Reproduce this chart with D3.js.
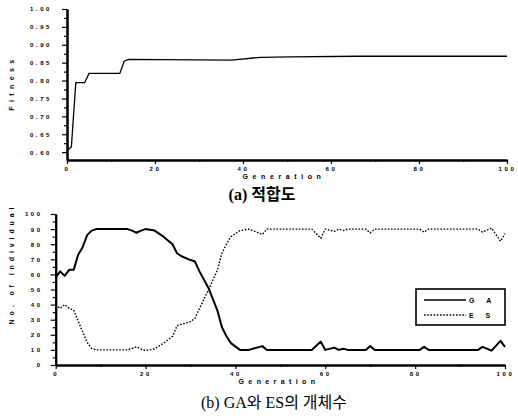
<!DOCTYPE html>
<html>
<head>
<meta charset="utf-8">
<script src="https://cdn.jsdelivr.net/npm/d3@7"></script>
<style>
body { margin: 0; background: #fff; }
svg { display: block; }
.tk text { font-family: "Liberation Sans", Arial, sans-serif; font-size: 6px; font-weight: bold; letter-spacing: 2.6px; fill: #000; }
.ttl { font-family: "Liberation Sans", Arial, sans-serif; font-size: 7px; font-weight: bold; fill: #000; }
.cap { font-family: "Liberation Serif", "Noto Sans CJK KR", serif; font-size: 16px; fill: #000; }
</style>
</head>
<body>
<svg id="chart" width="518" height="418"></svg>
<script>
// (a) fitness curve
var fitGen = [0, 1, 2, 4, 5, 12, 13, 14, 37, 38, 44, 51, 66, 100];
var fitVal = [0.603, 0.615, 0.794, 0.794, 0.820, 0.820, 0.854, 0.859, 0.857, 0.858, 0.865, 0.866, 0.868, 0.868];
var fitTicks = [0.60, 0.65, 0.70, 0.75, 0.80, 0.85, 0.90, 0.95, 1.00];

// (b) number of individuals
var popGen = [0, 1, 2, 3, 4, 5, 6, 7, 8, 9, 16, 17, 18, 19, 20, 22, 24, 26, 27, 28, 30, 31, 32, 34, 36, 37, 38, 39, 41, 43, 46, 47, 57, 59, 60, 62, 63, 64, 65, 69, 70, 71, 81, 82, 83, 94, 95, 97, 99, 100];
var gaVal = [58, 62, 59, 63, 63, 73, 78, 86, 89, 90, 90, 89, 87.6, 89, 90, 89, 85, 80, 74, 72, 69.5, 68.5, 62, 51, 36, 25, 19, 14.5, 10, 10, 12.5, 10, 10, 15.5, 10, 11.5, 10, 10.8, 10, 10, 12.5, 10, 10, 12, 10, 10, 12, 9.5, 16, 12];
var esVal = [40, 37.5, 40, 37.5, 36.5, 29, 22, 15, 11, 10, 10, 11, 12, 10.5, 9.5, 10.6, 14.4, 19, 26, 27, 28.7, 31, 37.5, 49.7, 63, 74, 80, 85, 89, 90, 86.5, 90, 90, 84, 90, 88.5, 90, 89, 90, 90, 87.5, 90, 90, 88, 90, 90, 88, 90.7, 82, 87];
var popTicks = [0, 10, 20, 30, 40, 50, 60, 70, 80, 90, 100];
var genTicks = [0, 20, 40, 60, 80, 100];
var series = ["G A", "E S"];

var svg = d3.select("#chart");

function styleAxis(g) {
    g.select(".domain").attr("stroke", "#000").attr("stroke-width", 2);
    g.selectAll(".tick line").attr("stroke", "#000").attr("stroke-width", 1.2);
    g.attr("class", "tk");
}

// ---------- top chart ----------
var x1 = d3.scaleLinear().domain([0, 100]).range([67, 507]);
var y1 = d3.scaleLinear().domain([0.578, 1.0]).range([160, 9]);

var gTop = svg.append("g");
gTop.append("g").attr("transform", "translate(0,160)")
    .call(d3.axisBottom(x1).tickValues(d3.range(10, 100, 20)).tickSize(2).tickFormat("").tickSizeOuter(0))
    .call(styleAxis);
gTop.append("g").attr("transform", "translate(0,160)")
    .call(d3.axisBottom(x1).tickValues(genTicks).tickSize(4).tickPadding(3).tickSizeOuter(0))
    .call(styleAxis);
gTop.append("g").attr("transform", "translate(67,0)")
    .call(d3.axisLeft(y1).tickValues(fitTicks.slice(0, -1).map(function(d) { return d + 0.025; })).tickSize(3).tickFormat("").tickSizeOuter(0))
    .call(styleAxis);
gTop.append("g").attr("transform", "translate(67,0)")
    .call(d3.axisLeft(y1).tickValues(fitTicks).tickSize(5).tickPadding(10).tickFormat(d3.format(".2f")).tickSizeOuter(0))
    .call(styleAxis);

var fitLine = d3.line().x(function(d, i) { return x1(fitGen[i]); }).y(function(d) { return y1(d); });
gTop.append("path").datum(fitVal).attr("d", fitLine)
    .attr("fill", "none").attr("stroke", "#000").attr("stroke-width", 1.3);

gTop.append("text").attr("class", "ttl").attr("x", 284).attr("y", 179)
    .attr("text-anchor", "middle").style("letter-spacing", "4.6px").text("Generation");
gTop.append("text").attr("class", "ttl").attr("transform", "translate(14,83) rotate(-90)")
    .attr("text-anchor", "middle").style("letter-spacing", "4.4px").text("Fitness");

svg.append("text").attr("class", "cap").attr("x", 262).attr("y", 200)
    .attr("text-anchor", "middle").attr("font-weight", "bold").text("(a) 적합도");

// ---------- bottom chart ----------
var x2 = d3.scaleLinear().domain([0, 100]).range([55.7, 505]);
var y2 = d3.scaleLinear().domain([0, 100]).range([365, 214]);

var gBot = svg.append("g");
gBot.append("g").attr("transform", "translate(0,365)")
    .call(d3.axisBottom(x2).tickValues(d3.range(10, 100, 20)).tickSize(2).tickFormat("").tickSizeOuter(0))
    .call(styleAxis);
gBot.append("g").attr("transform", "translate(0,365)")
    .call(d3.axisBottom(x2).tickValues(genTicks).tickSize(4).tickPadding(3).tickSizeOuter(0))
    .call(styleAxis);
gBot.append("g").attr("transform", "translate(55.7,0)")
    .call(d3.axisLeft(y2).tickValues(popTicks.slice(0, -1).map(function(d) { return d + 5; })).tickSize(3).tickFormat("").tickSizeOuter(0))
    .call(styleAxis);
gBot.append("g").attr("transform", "translate(55.7,0)")
    .call(d3.axisLeft(y2).tickValues(popTicks).tickSize(5).tickPadding(8).tickSizeOuter(0))
    .call(styleAxis);

var popLine = d3.line().x(function(d, i) { return x2(popGen[i]); }).y(function(d) { return y2(d); });
gBot.append("path").datum(gaVal).attr("d", popLine)
    .attr("fill", "none").attr("stroke", "#000").attr("stroke-width", 2).attr("stroke-linejoin", "round");
gBot.append("path").datum(esVal).attr("d", popLine)
    .attr("fill", "none").attr("stroke", "#000").attr("stroke-width", 1.4).attr("stroke-dasharray", "1.6,1.6");

gBot.append("text").attr("class", "ttl").attr("x", 279).attr("y", 384)
    .attr("text-anchor", "middle").style("letter-spacing", "4.4px").text("Generation");
gBot.append("text").attr("class", "ttl").attr("transform", "translate(14,264) rotate(-90)")
    .attr("text-anchor", "middle").style("letter-spacing", "3.9px").text("No. of individual");

// legend
var leg = gBot.append("g");
leg.append("rect").attr("x", 416).attr("y", 289).attr("width", 89).attr("height", 36)
    .attr("fill", "#fff").attr("stroke", "#000").attr("stroke-width", 1.6);
series.forEach(function(s, i) {
    var yy = 300 + i * 15;
    leg.append("line").attr("x1", 424).attr("x2", 466).attr("y1", yy).attr("y2", yy)
        .attr("stroke", "#000").attr("stroke-width", i === 0 ? 1.6 : 1.3)
        .attr("stroke-dasharray", i === 0 ? null : "1.6,1.6");
    leg.append("text").attr("class", "ttl").attr("x", 469).attr("y", yy + 2.5)
        .style("letter-spacing", "5px").text(s);
});

svg.append("text").attr("class", "cap").attr("x", 274).attr("y", 408)
    .attr("text-anchor", "middle").text("(b) GA와 ES의 개체수");
</script>
</body>
</html>
